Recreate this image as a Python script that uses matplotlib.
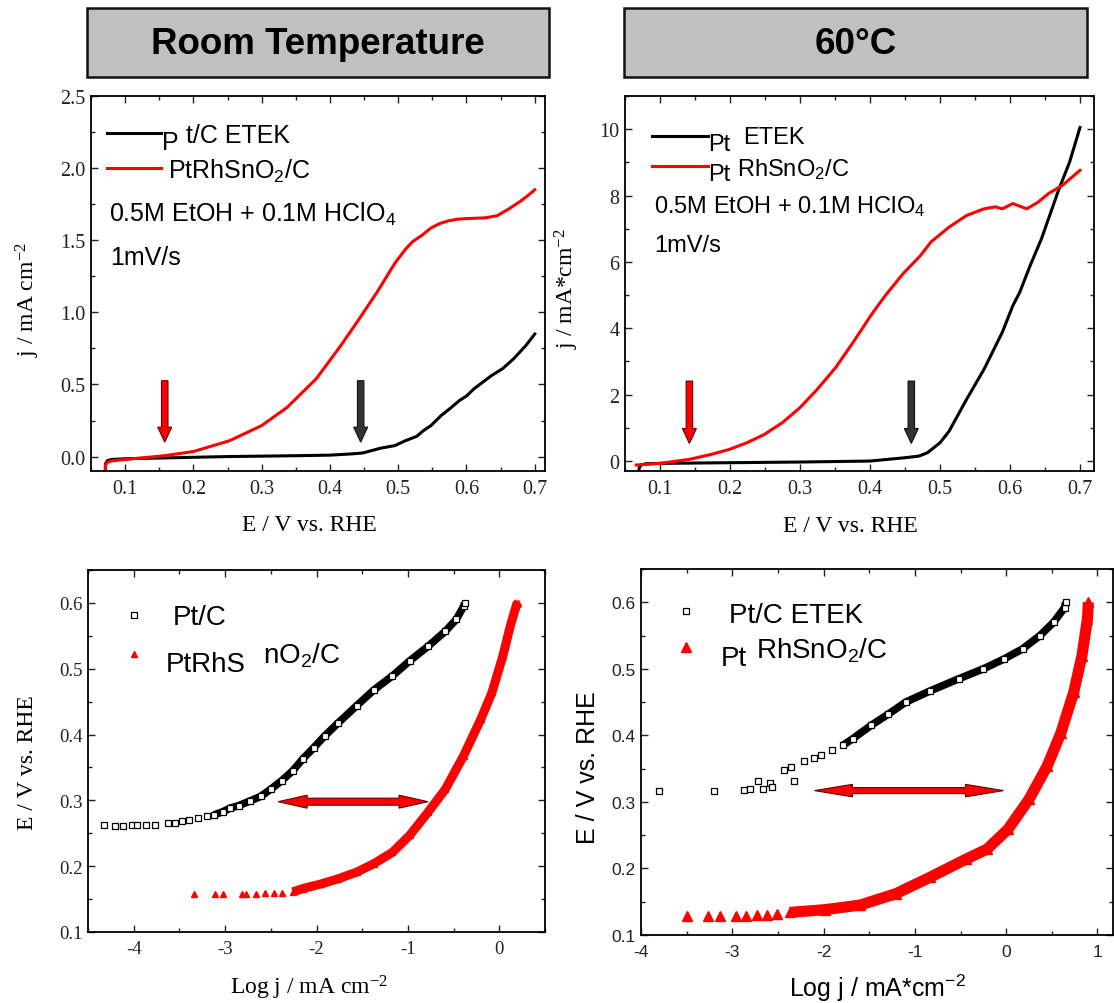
"""Ethanol oxidation on Pt/C and PtRhSnO2/C: linear sweeps and Tafel plots."""

import matplotlib

matplotlib.use("Agg")
import numpy
from matplotlib import pyplot
from matplotlib.lines import Line2D
from matplotlib.patches import Polygon, Rectangle
from matplotlib.ticker import MultipleLocator

W, H = 1114, 1004
SERIF = "Liberation Serif"
SANS = "Liberation Sans"
RED = "#ff0000"

# --- room temperature sweep (E / V, j / mA cm-2) ---
rt_e_pt = [0.0705, 0.0712, 0.074, 0.08, 0.1, 0.15, 0.2, 0.25, 0.3, 0.35, 0.4, 0.43, 0.448,
           0.474, 0.495, 0.511, 0.527, 0.537, 0.548, 0.563, 0.575, 0.59, 0.6, 0.611, 0.625,
           0.637, 0.653, 0.669, 0.687, 0.70]
rt_j_pt = [-0.2, -0.05, -0.028, -0.02, -0.015, -0.01, -0.005, 0.0, 0.003, 0.006, 0.01, 0.018,
           0.025, 0.058, 0.076, 0.111, 0.14, 0.18, 0.215, 0.285, 0.33, 0.39, 0.42, 0.47, 0.52,
           0.5625, 0.61, 0.678, 0.77, 0.85]
rt_e_prs = [0.0705, 0.0712, 0.074, 0.08, 0.1, 0.14, 0.159, 0.2, 0.253, 0.3, 0.337, 0.38, 0.416,
            0.443, 0.469, 0.495, 0.511, 0.521, 0.535, 0.548, 0.561, 0.574, 0.587, 0.6, 0.627,
            0.645, 0.663, 0.679, 0.69, 0.70]
rt_j_prs = [-0.2, -0.06, -0.04, -0.03, -0.02, -0.002, 0.007, 0.035, 0.11, 0.215, 0.34, 0.54,
            0.77, 0.956, 1.14, 1.34, 1.44, 1.49, 1.535, 1.585, 1.616, 1.635, 1.646, 1.65,
            1.655, 1.67, 1.72, 1.77, 1.81, 1.85]

# --- 60 °C sweep ---
ht_e_pt = [0.0695, 0.0702, 0.073, 0.08, 0.1, 0.2, 0.3, 0.4, 0.45, 0.47, 0.482, 0.5, 0.513,
           0.538, 0.563, 0.589, 0.604, 0.614, 0.629, 0.645, 0.655, 0.67, 0.685, 0.70]
ht_j_pt = [-0.5, -0.2, -0.12, -0.08, -0.07, -0.05, -0.03, 0.0, 0.1, 0.15, 0.25, 0.55, 0.9,
           1.86, 2.77, 3.88, 4.68, 5.09, 5.9, 6.7, 7.3, 8.2, 9.0, 10.05]
ht_e_prs = [0.066, 0.1, 0.142, 0.173, 0.199, 0.224, 0.249, 0.275, 0.3, 0.325, 0.351, 0.376,
            0.401, 0.422, 0.447, 0.472, 0.487, 0.513, 0.538, 0.563, 0.579, 0.589, 0.604,
            0.624, 0.64, 0.655, 0.675, 0.70]
ht_j_prs = [-0.12, -0.07, 0.05, 0.2, 0.35, 0.55, 0.8, 1.16, 1.61, 2.17, 2.82, 3.58, 4.38,
            4.99, 5.64, 6.19, 6.6, 7.05, 7.4, 7.6, 7.66, 7.6, 7.76, 7.6, 7.8, 8.06, 8.31, 8.76]

# --- room temperature Tafel (log j, E) ---
rt_logj_pt = [-4.33, -4.21, -4.12, -4.02, -3.96, -3.86, -3.77, -3.63, -3.55, -3.47, -3.4, -3.3,
              -3.2, -3.12, -3.02, -2.95, -2.85, -2.73, -2.61, -2.5, -2.38, -2.26, -2.15,
              -2.03, -1.91, -1.76, -1.56, -1.37, -1.17, -0.98, -0.78, -0.59, -0.47, -0.39, -0.38]
rt_tafel_pt = [0.262, 0.261, 0.261, 0.263, 0.262, 0.263, 0.263, 0.266, 0.265, 0.269, 0.27,
               0.273, 0.277, 0.278, 0.283, 0.288, 0.292, 0.299, 0.306, 0.317, 0.33, 0.345,
               0.363, 0.38, 0.398, 0.418, 0.444, 0.468, 0.489, 0.512, 0.534, 0.557, 0.575,
               0.595, 0.6]
rt_logj_prs = [-3.34, -3.11, -3.02, -2.81, -2.77, -2.66, -2.56, -2.46, -2.38, -2.26, -2.15,
               -1.95, -1.76, -1.56, -1.37, -1.17, -0.98, -0.78, -0.59, -0.39, -0.2, -0.08,
               0.04, 0.12, 0.19, 0.21]
rt_tafel_prs = [0.157, 0.158, 0.158, 0.158, 0.158, 0.157, 0.159, 0.16, 0.16, 0.161, 0.166,
                0.173, 0.181, 0.191, 0.204, 0.221, 0.247, 0.282, 0.317, 0.368, 0.424, 0.464,
                0.52, 0.565, 0.598, 0.6]

# --- 60 °C Tafel ---
ht_logj_pt = [-3.8, -3.2, -2.87, -2.81, -2.72, -2.66, -2.59, -2.57, -2.43, -2.36, -2.32, -2.22,
              -2.1, -2.03, -1.91, -1.79, -1.68, -1.48, -1.29, -1.1, -0.83, -0.52, -0.25,
              -0.02, 0.18, 0.37, 0.52, 0.64, 0.65]
ht_tafel_pt = [0.316, 0.317, 0.318, 0.32, 0.331, 0.32, 0.329, 0.322, 0.348, 0.352, 0.331,
               0.362, 0.366, 0.37, 0.378, 0.385, 0.395, 0.415, 0.432, 0.45, 0.467, 0.485,
               0.5, 0.515, 0.53, 0.55, 0.57, 0.592, 0.6]
ht_logj_prs = [-3.5, -3.27, -3.13, -2.96, -2.85, -2.73, -2.62, -2.51, -2.37, -1.99, -1.6,
               -1.21, -0.83, -0.44, -0.21, 0.02, 0.25, 0.45, 0.6, 0.74, 0.83, 0.89, 0.9]
ht_tafel_prs = [0.129, 0.129, 0.129, 0.129, 0.129, 0.13, 0.13, 0.131, 0.134, 0.138, 0.145,
                0.162, 0.187, 0.214, 0.229, 0.259, 0.304, 0.354, 0.404, 0.465, 0.52, 0.575,
                0.6]

# onset arrows (E position) and Tafel gap arrows (log j span, E)
rt_onsets = [0.158, 0.445]
ht_onsets = [0.142, 0.459]
rt_gap = (-2.42, -0.78, 0.298)
ht_gap = (-2.1, -0.03, 0.317)


def rect(left, top, right, bottom):
    return [left / W, 1 - bottom / H, (right - left) / W, (bottom - top) / H]


def ftext(fig, x, y, s, size, family=SANS, **kw):
    fig.text(x / W, 1 - y / H, s, fontsize=size, family=family, va="baseline", **kw)


def fline(fig, x0, x1, y, color):
    fig.add_artist(Line2D([x0 / W, x1 / W], [1 - y / H] * 2, color=color, lw=2.2))


def fmarker(fig, x, y, **kw):
    fig.add_artist(Line2D([x / W], [1 - y / H], ls="none", **kw))


def arrow(ax, x0, y0, x1, y1, shaft, head_w, head_l, fc, ec, both=False):
    # built in pixels so the heads keep their shape, then mapped back to data
    p0 = ax.transData.transform((x0, y0))
    p1 = ax.transData.transform((x1, y1))
    u = (p1 - p0) / numpy.hypot(*(p1 - p0))
    n = numpy.array([-u[1], u[0]])
    s, h = shaft / 2, head_w / 2
    start = p0 + u * head_l if both else p0
    end = p1 - u * head_l
    pts = [start + n * s, end + n * s, end + n * h, p1, end - n * h, end - n * s, start - n * s]
    if both:
        pts += [start - n * h, p0, start + n * h]
    verts = ax.transData.inverted().transform(numpy.array(pts))
    ax.add_patch(Polygon(verts, closed=True, fc=fc, ec=ec, lw=0.8, zorder=5, clip_on=False))


def style(ax, family, size, xmaj, ymaj, pad_x=6):
    ax.xaxis.set_major_locator(MultipleLocator(xmaj))
    ax.xaxis.set_minor_locator(MultipleLocator(xmaj / 2))
    ax.yaxis.set_major_locator(MultipleLocator(ymaj))
    ax.yaxis.set_minor_locator(MultipleLocator(ymaj / 2))
    ax.tick_params(which="both", direction="in", top=True, right=True, width=1,
                   labelsize=size, labelfontfamily=family, colors="#222222")
    ax.tick_params(which="major", length=5)
    ax.tick_params(which="minor", length=3)
    ax.tick_params(axis="x", pad=pad_x)
    ax.tick_params(axis="y", pad=4)
    for sp in ax.spines.values():
        sp.set_linewidth(1.3)


def labels(ax, xlabel, ylabel, family, size, xpos, ypos):
    ax.set_xlabel(xlabel, family=family, fontsize=size)
    ax.set_ylabel(ylabel, family=family, fontsize=size)
    ax.xaxis.set_label_coords(*xpos)
    ax.yaxis.set_label_coords(*ypos)


def main():
    pyplot.rcParams["axes.unicode_minus"] = False
    pyplot.rcParams["mathtext.default"] = "regular"
    fig = pyplot.figure(figsize=(W / 100, H / 100), dpi=100)

    # header boxes
    for (x0, x1), title in [((87, 549), "Room Temperature"), ((624, 1087), "60°C")]:
        fig.add_artist(Rectangle((x0 / W, 1 - 78 / H), (x1 - x0) / W, 69 / H,
                                 fc="#c0c0c0", ec="#111111", lw=1.8))
        fig.text((x0 + x1) / 2 / W, 1 - 44 / H, title, ha="center", va="center",
                 fontsize=26.5, fontweight="bold", family=SANS)

    # room temperature sweep
    ax = fig.add_axes(rect(91, 97, 545, 472))
    ax.plot(rt_e_pt, rt_j_pt, color="black", lw=2.2)
    ax.plot(rt_e_prs, rt_j_prs, color=RED, lw=2.2)
    ax.set_xlim(0.05, 0.715)
    ax.set_ylim(-0.1, 2.5)
    style(ax, SERIF, 14.5, 0.1, 0.5)
    labels(ax, "E / V vs. RHE", "j / mA cm$^{-2}$", SERIF, 17,
           (0.48, -0.115), (-0.108, 0.46))
    arrow(ax, rt_onsets[0], 0.526, rt_onsets[0], 0.10, 6.5, 14, 15, RED, "#660000")
    arrow(ax, rt_onsets[1], 0.526, rt_onsets[1], 0.10, 6.5, 14, 15, "#333333", "#111111")
    fline(fig, 107, 161, 134, "black")
    ftext(fig, 162, 150, "P", 18)
    ftext(fig, 186, 143, "t/C ETEK", 18)
    fline(fig, 107, 161, 169, RED)
    ftext(fig, 168, 179, "PtRhSnO$_2$/C", 18)
    ftext(fig, 109, 222, "0.5M EtOH + 0.1M HClO$_4$", 18)
    ftext(fig, 110, 265, "1mV/s", 18)

    # 60 °C sweep
    ax = fig.add_axes(rect(625, 97, 1094, 472))
    ax.plot(ht_e_pt, ht_j_pt, color="black", lw=2.2)
    ax.plot(ht_e_prs, ht_j_prs, color=RED, lw=2.2)
    ax.set_xlim(0.05, 0.72)
    ax.set_ylim(-0.3, 11.0)
    style(ax, SERIF, 14.5, 0.1, 2)
    labels(ax, "E / V vs. RHE", "j / mA*cm$^{-2}$", SERIF, 17,
           (0.48, -0.118), (-0.094, 0.49))
    arrow(ax, ht_onsets[0], 2.41, ht_onsets[0], 0.53, 6.5, 14, 15, RED, "#660000")
    arrow(ax, ht_onsets[1], 2.41, ht_onsets[1], 0.53, 6.5, 14, 15, "#333333", "#111111")
    fline(fig, 652, 708, 137, "black")
    ftext(fig, 708, 151, "Pt", 17)
    ftext(fig, 743, 144, "ETEK", 17)
    fline(fig, 652, 708, 167, RED)
    ftext(fig, 708, 181, "Pt", 17)
    ftext(fig, 737, 176, "RhSnO$_2$/C", 17)
    ftext(fig, 654, 213, "0.5M EtOH + 0.1M HClO$_4$", 17)
    ftext(fig, 654, 252, "1mV/s", 17)

    # room temperature Tafel
    ax = fig.add_axes(rect(88, 571, 545, 933))
    ax.plot(rt_logj_pt[13:], rt_tafel_pt[13:], color="black", lw=5.5, solid_capstyle="butt")
    ax.plot(rt_logj_pt, rt_tafel_pt, ls="none", marker="s", ms=4.8, mfc="white",
            mec="black", mew=0.9)
    ax.plot(rt_logj_prs[9:], rt_tafel_prs[9:], color=RED, lw=6.5, solid_capstyle="butt")
    ax.plot(rt_logj_prs, rt_tafel_prs, ls="none", marker="^", ms=5, color=RED)
    ax.set_xlim(-4.5, 0.5)
    ax.set_ylim(0.1, 0.65)
    style(ax, SERIF, 13.5, 1, 0.1)
    labels(ax, "Log j / mA cm$^{-2}$", "E / V vs. RHE", SERIF, 17,
           (0.484, -0.112), (-0.109, 0.47))
    arrow(ax, rt_gap[0], rt_gap[2], rt_gap[1], rt_gap[2], 7, 13, 29, RED, "#660000", both=True)
    fmarker(fig, 134, 616, marker="s", ms=4.8, mfc="white", mec="black", mew=0.9)
    ftext(fig, 173, 625, "Pt/C", 20)
    fmarker(fig, 134, 655, marker="^", ms=5, color=RED)
    ftext(fig, 166, 672, "PtRhS", 20)
    ftext(fig, 263, 664, "nO$_2$/C", 20)

    # 60 °C Tafel
    ax = fig.add_axes(rect(641, 570, 1113, 936))
    ax.plot(ht_logj_pt[15:], ht_tafel_pt[15:], color="black", lw=5.5, solid_capstyle="butt")
    ax.plot(ht_logj_pt, ht_tafel_pt, ls="none", marker="s", ms=5, mfc="white",
            mec="black", mew=0.9)
    ax.plot(ht_logj_prs[8:], ht_tafel_prs[8:], color=RED, lw=8, solid_capstyle="butt")
    ax.plot(ht_logj_prs, ht_tafel_prs, ls="none", marker="^", ms=6.5, color=RED)
    ax.set_xlim(-4, 1.17)
    ax.set_ylim(0.1, 0.65)
    style(ax, SANS, 12.5, 1, 0.1, pad_x=6.5)
    labels(ax, "Log j / mA*cm$^{-2}$", "E / V vs. RHE", SANS, 18,
           (0.5, -0.1), (-0.087, 0.46))
    arrow(ax, ht_gap[0], ht_gap[2], ht_gap[1], ht_gap[2], 6, 12.5, 38, RED, "#660000", both=True)
    fmarker(fig, 686, 612, marker="s", ms=5, mfc="white", mec="black", mew=0.9)
    ftext(fig, 729, 623, "Pt/C ETEK", 20)
    fmarker(fig, 686, 648, marker="^", ms=6.5, color=RED)
    ftext(fig, 721, 666, "Pt", 20)
    ftext(fig, 756, 659, "RhSnO$_2$/C", 20)

    fig.savefig("out.png", dpi=100)


if __name__ == "__main__":
    main()
